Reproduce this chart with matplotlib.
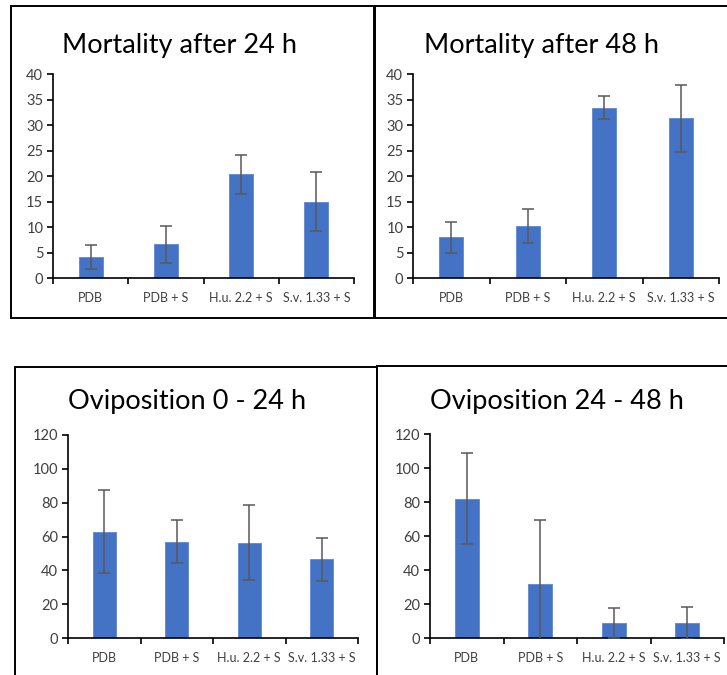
import numpy as np
import matplotlib
matplotlib.use("Agg")
import matplotlib.pyplot as plt
from matplotlib.patches import Rectangle

plt.rcParams["font.family"] = ["Lato", "DejaVu Sans"]

# treatment groups and means / error half-widths per panel
groups = ["PDB", "PDB + S", "H.u. 2.2 + S", "S.v. 1.33 + S"]

mort24 = [4.15, 6.6, 20.3, 15.0]
mort24_err = [2.35, 3.6, 3.9, 5.8]

mort48 = [8.0, 10.2, 33.4, 31.3]
mort48_err = [3.0, 3.3, 2.2, 6.5]

ovi0_24 = [62.8, 57.0, 56.3, 46.6]
ovi0_24_err = [24.4, 12.5, 22.2, 12.8]

ovi24_48 = [82.0, 32.0, 9.0, 9.0]
ovi24_48_err = [26.6, 37.5, 8.8, 9.3]

W, H = 727, 675
BAR = "#4472C4"
ERR = "#595959"
TXT = "#404040"

fig = plt.figure(figsize=(W / 100, H / 100), dpi=100)
fig.patch.set_facecolor("white")


def px_axes(x0, x1, y_top, y_bot):
    # axes placed by pixel edges (origin top-left)
    return fig.add_axes([x0 / W, 1 - y_bot / H, (x1 - x0) / W, (y_bot - y_top) / H])


def frame(x0, x1, y0, y1):
    fig.add_artist(Rectangle((x0 / W, 1 - y1 / H), (x1 - x0) / W, (y1 - y0) / H,
                             transform=fig.transFigure, fill=False,
                             ec="black", lw=1.4, clip_on=False))


def panel(ax, vals, errs, ymax, step, title, title_xy):
    x = np.arange(len(groups))
    ax.bar(x, vals, width=0.32, color=BAR, edgecolor="#5d86d2", lw=0.6, zorder=2)
    ax.errorbar(x, vals, yerr=errs, fmt="none", ecolor=ERR, elinewidth=1.1,
                capsize=4, capthick=1.1, zorder=3)
    ax.set_xlim(-0.5, len(groups) - 0.5)
    ax.set_ylim(0, ymax)
    ax.set_yticks(np.arange(0, ymax + 1, step))
    ax.set_xticks(x)
    ax.set_xticklabels(groups)
    ax.set_xticks(np.arange(-0.5, len(groups)), minor=True)
    ax.tick_params(axis="x", which="major", length=0, pad=10, labelsize=9, labelcolor=TXT)
    ax.tick_params(axis="x", which="minor", length=4, width=1.2, direction="out", color="black")
    ax.tick_params(axis="y", length=4, width=1.2, direction="out", color="black",
                   labelsize=10.5, labelcolor=TXT, pad=3)
    for s in ("top", "right"):
        ax.spines[s].set_visible(False)
    for s in ("left", "bottom"):
        ax.spines[s].set_color("black")
        ax.spines[s].set_linewidth(1.2)
    fig.text(title_xy[0] / W, 1 - title_xy[1] / H, title, ha="center", va="center",
             fontsize=19.5, color="black")


# outer frames around each chart
frame(11, 374, 6, 318)
frame(375, 740, 6, 318)
frame(15, 377, 367, 690)
frame(377, 740, 366, 690)

ax1 = px_axes(53, 354, 74, 278)
panel(ax1, mort24, mort24_err, 40, 5, "Mortality after 24 h", (180, 46))

ax2 = px_axes(413, 719, 74, 278)
panel(ax2, mort48, mort48_err, 40, 5, "Mortality after 48 h", (541, 46))

ax3 = px_axes(68, 358, 435, 638)
panel(ax3, ovi0_24, ovi0_24_err, 120, 20, "Oviposition 0 - 24 h", (187, 401))

ax4 = px_axes(430, 724, 434, 638)
panel(ax4, ovi24_48, ovi24_48_err, 120, 20, "Oviposition 24 - 48 h", (557, 401))

fig.savefig("out.png", dpi=100, facecolor="white")
